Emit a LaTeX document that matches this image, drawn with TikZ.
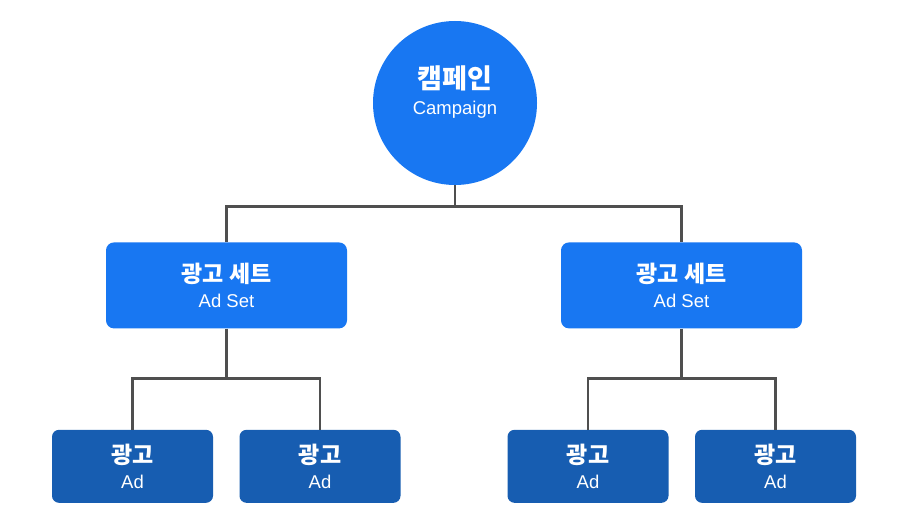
\documentclass[tikz,border=0pt]{standalone}
\usepackage{fontspec}
\setmainfont{Liberation Sans}
\newfontfamily\kofont{Noto Sans CJK KR}
\usetikzlibrary{positioning}
\definecolor{fbblue}{HTML}{1877F2}
\definecolor{addark}{HTML}{175DB1}
\definecolor{linkgray}{HTML}{4F4F4F}
\newcommand{\kotitle}[2][23]{{\kofont\bfseries\fontsize{#1}{25}\selectfont #2}}
\newcommand{\entitle}[1]{{\fontsize{18.5}{25}\selectfont #1}}
\begin{document}
\begin{tikzpicture}[x=1pt,y=1pt,
		campaign/.style={circle,fill=fbblue,minimum size=164pt,inner sep=0pt,text=white,align=center,text depth=25pt,font=\fontsize{18.5}{26}\selectfont},
		adset/.style={rectangle,rounded corners=8pt,fill=fbblue,minimum width=241pt,minimum height=86pt,inner sep=0pt,text=white,align=center,font=\fontsize{18.5}{25}\selectfont},
		adbox/.style={rectangle,rounded corners=7pt,fill=addark,minimum width=161pt,minimum height=73pt,inner sep=0pt,text=white,align=center,font=\fontsize{18.5}{25}\selectfont},
		link/.style={draw=linkgray,line width=2.8pt}]
				\useasboundingbox (0,0) rectangle (909,515);
				\node[campaign](camp) at (455,412){\kotitle[27]{캠페인}\\\entitle{Campaign}};
				\coordinate[below=21pt of camp](j1);
				\node[adset,below=57pt of camp,xshift=-228.5pt](setL){\kotitle{광고 세트}\\\entitle{Ad Set}};
				\node[adset,below=57pt of camp,xshift=226.5pt](setR){\kotitle{광고 세트}\\\entitle{Ad Set}};
				\coordinate[below=50pt of setL](j2L);
				\coordinate[below=50pt of setR](j2R);
				\node[adbox,below=101pt of setL,xshift=-94pt](adL1){\kotitle{광고}\\\entitle{Ad}};
				\node[adbox,below=101pt of setL,xshift=93.5pt](adL2){\kotitle{광고}\\\entitle{Ad}};
				\node[adbox,below=101pt of setR,xshift=-93.5pt](adR1){\kotitle{광고}\\\entitle{Ad}};
				\node[adbox,below=101pt of setR,xshift=94pt](adR2){\kotitle{광고}\\\entitle{Ad}};

				\draw[link] (camp) -- (j1);
				\draw[link] (j1) -| (setL);
				\draw[link] (j1) -| (setR);
				\draw[link] (setL) -- (j2L);
				\draw[link] (j2L) -| (adL1);
				\draw[link] (j2L) -| (adL2);
				\draw[link] (setR) -- (j2R);
				\draw[link] (j2R) -| (adR1);
				\draw[link] (j2R) -| (adR2);
			\end{tikzpicture}
\end{document}
